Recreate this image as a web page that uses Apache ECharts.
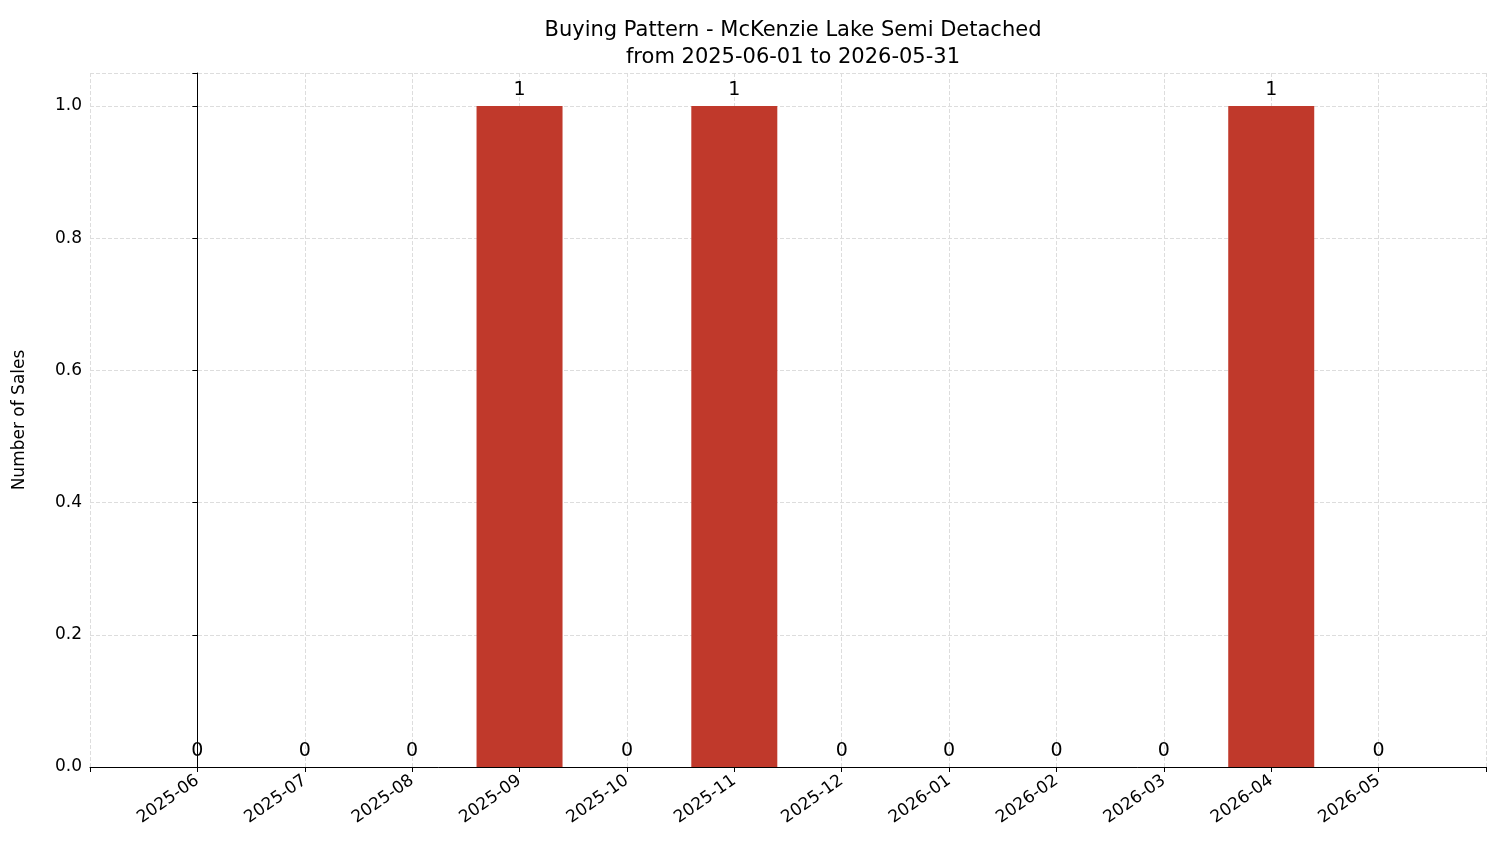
<!DOCTYPE html>
<html>
<head>
<meta charset="utf-8">
<script src="https://cdn.jsdelivr.net/npm/echarts@6/dist/echarts.min.js"></script>
<style>html,body{margin:0;padding:0;background:#fff}#chart{width:1501px;height:863px}</style>
</head>
<body>
<div id="chart"></div>
<script>
var months = ['2025-06','2025-07','2025-08','2025-09','2025-10','2025-11','2025-12','2026-01','2026-02','2026-03','2026-04','2026-05'];
var sales = [0, 0, 0, 1, 0, 1, 0, 0, 0, 0, 1, 0];

var chart = echarts.init(document.getElementById('chart'));
var font = 'DejaVu Sans';
chart.setOption({
    backgroundColor: '#fff',
    textStyle: { fontFamily: font },
    title: {
        text: 'Buying Pattern - McKenzie Lake Semi Detached\nfrom 2025-06-01 to 2026-05-31',
        left: 788, top: 12, textAlign: 'center',
        textStyle: { fontFamily: font, fontSize: 21, fontWeight: 'normal', color: '#000', lineHeight: 27 }
    },
    grid: { left: 90, right: 15, top: 73, bottom: 96 },
    xAxis: {
        type: 'value', min: -1, max: 12, interval: 1,
        axisLine: { show: true, onZero: false, lineStyle: { color: '#000' } },
        axisTick: { show: true, length: 5, lineStyle: { color: '#000' } },
        axisLabel: {
            rotate: 35, fontSize: 17, color: '#000', margin: 12,
            formatter: function (v) { return months[v] || ''; }
        },
        splitLine: { show: true, lineStyle: { color: '#ddd', type: 'dashed' } }
    },
    yAxis: {
        type: 'value', min: 0, max: 1.05, interval: 0.2,
        name: 'Number of Sales', nameLocation: 'middle', nameGap: 62,
        nameTextStyle: { fontSize: 17, color: '#000' },
        axisLine: { show: true, lineStyle: { color: '#000' } },
        axisTick: { show: true, length: 5, lineStyle: { color: '#000' } },
        axisLabel: {
            fontSize: 17, color: '#000',
            formatter: function (v) {
                var r = Math.round(v * 5) / 5;
                return Math.abs(r - v) < 1e-6 ? v.toFixed(1) : '';
            }
        },
        splitLine: { show: true, lineStyle: { color: '#ddd', type: 'dashed' } }
    },
    series: [{
        type: 'bar',
        barWidth: 86,
        itemStyle: { color: '#c0392b' },
        label: { show: true, position: 'top', fontSize: 19, color: '#000', distance: 6,
            formatter: function (p) { return p.value[1]; } },
        data: sales.map(function (v, i) { return [i, v]; })
    }]
});
</script>
</body>
</html>
